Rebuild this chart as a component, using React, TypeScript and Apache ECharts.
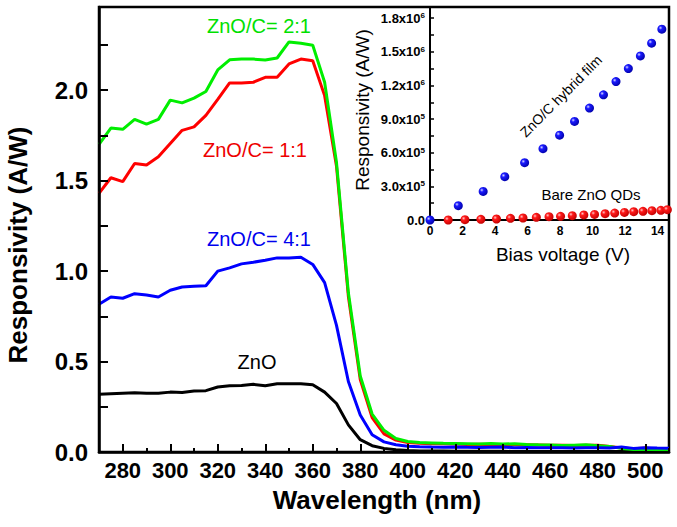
import React, { useEffect, useRef } from "react";
import * as echarts from "echarts";

const FONT = '"Liberation Sans", Arial, Helvetica, sans-serif';

// Main plot: wavelength (nm)
const WAVELENGTH = [
  270, 275, 280, 285, 290, 295, 300, 305, 310, 315, 320, 325, 330, 335, 340, 345, 350, 355, 360, 365,
  370, 375, 380, 385, 390, 395, 400, 405, 410, 415, 420, 425, 430, 435, 440, 445, 450, 455, 460, 465,
  470, 475, 480, 485, 490, 495, 500, 505, 510,
];
const RESP_ZNO = [
  0.319, 0.322, 0.325, 0.327, 0.325, 0.325, 0.331, 0.329, 0.337, 0.339, 0.359, 0.366, 0.368, 0.374, 0.366, 0.377, 0.377, 0.377, 0.372, 0.331,
  0.268, 0.150, 0.068, 0.035, 0.020, 0.012, 0.008, 0.006, 0.005, 0.005, 0.004, 0.004, 0.004, 0.004, 0.004, 0.003, 0.003, 0.003, 0.003, 0.003,
  0.003, 0.003, 0.003, 0.003, 0.003, 0.003, 0.003, 0.003, 0.003,
];
const RESP_ZNO_C_4_1 = [
  0.817, 0.857, 0.850, 0.875, 0.868, 0.857, 0.894, 0.912, 0.916, 0.919, 1.000, 1.018, 1.040, 1.049, 1.060, 1.073, 1.073, 1.077, 1.037, 0.936,
  0.700, 0.390, 0.205, 0.095, 0.056, 0.040, 0.032, 0.029, 0.027, 0.026, 0.028, 0.026, 0.025, 0.026, 0.027, 0.024, 0.025, 0.024, 0.023, 0.024,
  0.022, 0.023, 0.024, 0.022, 0.028, 0.020, 0.024, 0.022, 0.021,
];
const RESP_ZNO_C_1_1 = [
  1.430, 1.516, 1.495, 1.595, 1.586, 1.632, 1.705, 1.778, 1.797, 1.861, 1.949, 2.040, 2.040, 2.044, 2.071, 2.071, 2.145, 2.172, 2.163, 1.970,
  1.580, 0.860, 0.400, 0.190, 0.100, 0.066, 0.052, 0.048, 0.046, 0.045, 0.044, 0.042, 0.043, 0.041, 0.042, 0.040, 0.040, 0.039, 0.038, 0.037,
  0.036, 0.037, 0.038, 0.030, 0.022, 0.018, 0.022, 0.016, 0.015,
];
const RESP_ZNO_C_2_1 = [
  1.700, 1.791, 1.784, 1.839, 1.813, 1.839, 1.945, 1.930, 1.956, 1.993, 2.112, 2.168, 2.172, 2.172, 2.167, 2.178, 2.267, 2.260, 2.249, 2.044,
  1.600, 0.880, 0.420, 0.210, 0.120, 0.075, 0.058, 0.052, 0.050, 0.048, 0.047, 0.046, 0.044, 0.047, 0.044, 0.046, 0.042, 0.040, 0.039, 0.036,
  0.038, 0.040, 0.035, 0.030, 0.020, 0.014, 0.015, 0.012, 0.012,
];
// Tick positions on the wavelength axis (every 10 nm; labelled every 20 nm)
const X_TICK_VALUES = [
  270, 280, 290, 300, 310, 320, 330, 340, 350, 360, 370, 380, 390, 400, 410, 420, 430, 440, 450, 460, 470, 480, 490, 500, 510,
];

// Inset: bias voltage (V) vs responsivity (A/W)
const BIAS_HYBRID = [0, 1.74, 3.27, 4.6, 5.82, 6.95, 7.97, 8.89, 9.81, 10.67, 11.44, 12.2, 12.94, 13.63, 14.26];
const RESP_HYBRID = [0, 1.28e5, 2.55e5, 3.86e5, 5.11e5, 6.36e5, 7.57e5, 8.79e5, 9.98e5, 1.117e6, 1.235e6, 1.351e6, 1.464e6, 1.577e6, 1.702e6];
const BIAS_BARE = [1.12, 2.15, 3.13, 4.09, 4.95, 5.72, 6.54, 7.32, 8.03, 8.75, 9.46, 10.12, 10.77, 11.36, 11.96, 12.53, 13.1, 13.65, 14.2, 14.6];
const RESP_BARE = [0, 3e3, 6e3, 9e3, 1.5e4, 1.8e4, 2.4e4, 3.0e4, 3.3e4, 3.9e4, 4.5e4, 5.0e4, 5.6e4, 6.2e4, 6.8e4, 7.4e4, 7.7e4, 8.3e4, 8.6e4, 9.2e4];

const pair = (xs: number[], ys: number[]) => xs.map((x, i) => [x, ys[i]]);

export default function App() {
  const ref = useRef<HTMLDivElement>(null);
  useEffect(() => {
    if (!ref.current) return;
    const chart = echarts.init(ref.current, undefined, { renderer: "svg" });

    const ball = (light: string, mid: string, dark: string) =>
      new echarts.graphic.RadialGradient(0.35, 0.35, 0.7, [
        { offset: 0, color: light },
        { offset: 0.3, color: mid },
        { offset: 1, color: dark },
      ]);

    const lineSeries = (name: string, data: number[], color: string) => ({
      name,
      type: "line",
      xAxisIndex: 0,
      yAxisIndex: 0,
      data: pair(WAVELENGTH, data),
      showSymbol: false,
      symbol: "none",
      clip: true,
      lineStyle: { color, width: 3 },
    });

    const txt = (text: string, x: number, y: number, fontSize: number, fill: string, fontWeight = "normal", rotation = 0) => ({
      type: "text",
      x,
      y,
      rotation,
      z: 100,
      style: { text, fill, fontSize, fontWeight, fontFamily: FONT, align: "center", verticalAlign: "middle" },
    });

    chart.setOption({
      animation: false,
      backgroundColor: "#fff",
      textStyle: { fontFamily: FONT },
      grid: [
        { left: 99, right: 8, top: 7, bottom: 75, show: true, borderColor: "#000", borderWidth: 2.5, backgroundColor: "transparent" },
        { left: 430, right: 8, top: 7, bottom: 307 },
      ],
      xAxis: [
        {
          type: "value",
          gridIndex: 0,
          min: 270,
          max: 510,
          interval: 10,
          z: 10,
          splitLine: { show: false },
          axisLine: { show: true, lineStyle: { color: "#000", width: 2.5 } },
          axisTick: { show: true, inside: true, length: 4, lineStyle: { color: "#000", width: 2 } },
          axisLabel: {
            formatter: (v: number) => (v % 20 === 0 ? String(v) : ""),
            fontSize: 22,
            fontWeight: "bold",
            color: "#000",
            margin: 7,
          },
        },
        {
          type: "category",
          gridIndex: 0,
          position: "bottom",
          data: X_TICK_VALUES.map(String),
          boundaryGap: false,
          z: 10,
          axisLine: { show: false },
          axisLabel: { show: false },
          splitLine: { show: false },
          axisTick: {
            show: true,
            inside: true,
            length: 8,
            interval: (_i: number, v: string) => Number(v) % 20 === 0 && Number(v) > 270 && Number(v) < 510,
            lineStyle: { color: "#000", width: 2 },
          },
        },
        {
          type: "value",
          gridIndex: 1,
          min: 0,
          max: 14.7,
          interval: 2,
          splitLine: { show: false },
          axisLine: { show: true, lineStyle: { color: "#000", width: 2 } },
          axisTick: { show: false },
          axisLabel: {
            formatter: (v: number) => (v % 2 === 0 ? String(v) : ""),
            fontSize: 12,
            fontWeight: "bold",
            color: "#000",
            margin: 5,
          },
        },
      ],
      yAxis: [
        {
          type: "value",
          gridIndex: 0,
          min: 0,
          max: 2.46,
          interval: 0.25,
          z: 10,
          splitLine: { show: false },
          axisLine: { show: true, lineStyle: { color: "#000", width: 2.5 } },
          axisTick: { show: true, inside: true, length: 9, lineStyle: { color: "#000", width: 2 } },
          axisLabel: {
            formatter: (v: number) => (Math.abs(v * 2 - Math.round(v * 2)) < 1e-6 ? v.toFixed(1) : ""),
            fontSize: 24,
            fontWeight: "bold",
            color: "#000",
            margin: 11,
          },
        },
        {
          type: "value",
          gridIndex: 1,
          min: 0,
          max: 1.9e6,
          interval: 1.5e5,
          splitLine: { show: false },
          axisLine: { show: true, lineStyle: { color: "#000", width: 2 } },
          axisTick: { show: true, inside: true, length: 4, lineStyle: { color: "#000", width: 1.5 } },
          axisLabel: {
            formatter: (v: number) => {
              if (v === 0) return "0.0";
              if (Math.round(v / 1.5e5) % 2 !== 0 || v > 1.85e6) return "";
              const e = v >= 1e6 ? 6 : 5;
              return `${(v / Math.pow(10, e)).toFixed(1)}x10{sup|${e}}`;
            },
            fontSize: 13,
            fontWeight: "bold",
            color: "#000",
            margin: 5,
            rich: {
              sup: { fontSize: 8, fontWeight: "bold", color: "#000", verticalAlign: "top", lineHeight: 8 },
            },
          },
        },
      ],
      series: [
        lineSeries("ZnO", RESP_ZNO, "#000000"),
        lineSeries("ZnO/C= 1:1", RESP_ZNO_C_1_1, "#ff0000"),
        lineSeries("ZnO/C= 2:1", RESP_ZNO_C_2_1, "#00ee00"),
        lineSeries("ZnO/C= 4:1", RESP_ZNO_C_4_1, "#0000ff"),
        {
          name: "Bare ZnO QDs",
          type: "scatter",
          xAxisIndex: 2,
          yAxisIndex: 1,
          data: pair(BIAS_BARE, RESP_BARE),
          symbolSize: 9,
          clip: true,
          itemStyle: { color: ball("#ffc8c8", "#ff1a1a", "#c00000"), opacity: 1 },
        },
        {
          name: "ZnO/C hybrid film",
          type: "scatter",
          xAxisIndex: 2,
          yAxisIndex: 1,
          data: pair(BIAS_HYBRID, RESP_HYBRID),
          symbolSize: 9,
          clip: true,
          itemStyle: { color: ball("#d8d8ff", "#1a1aff", "#0000a8"), opacity: 1 },
        },
      ],
      graphic: [
        txt("ZnO/C= 2:1", 259, 26, 20, "#00e000"),
        txt("ZnO/C= 1:1", 255, 150, 20, "#ee0000"),
        txt("ZnO/C= 4:1", 259, 239, 20, "#0000ee"),
        txt("ZnO", 257, 362, 20, "#000000"),
        txt("Responsivity (A/W)", 18, 245, 26, "#000", "bold", Math.PI / 2),
        txt("Wavelength (nm)", 377, 500, 26, "#000", "bold"),
        txt("Bias voltage (V)", 563, 254, 19, "#000"),
        txt("Responsivity (A/W)", 362, 110, 19, "#000", "normal", Math.PI / 2),
        txt("ZnO/C hybrid film", 561, 96, 14, "#000", "normal", Math.PI / 4),
        txt("Bare ZnO QDs", 591, 194, 15, "#000"),
      ],
    });
    return () => chart.dispose();
  }, []);

  return (
    <div
      ref={ref}
      style={{ position: "fixed", left: 0, top: 0, width: 677, height: 527, background: "#fff" }}
    />
  );
}
